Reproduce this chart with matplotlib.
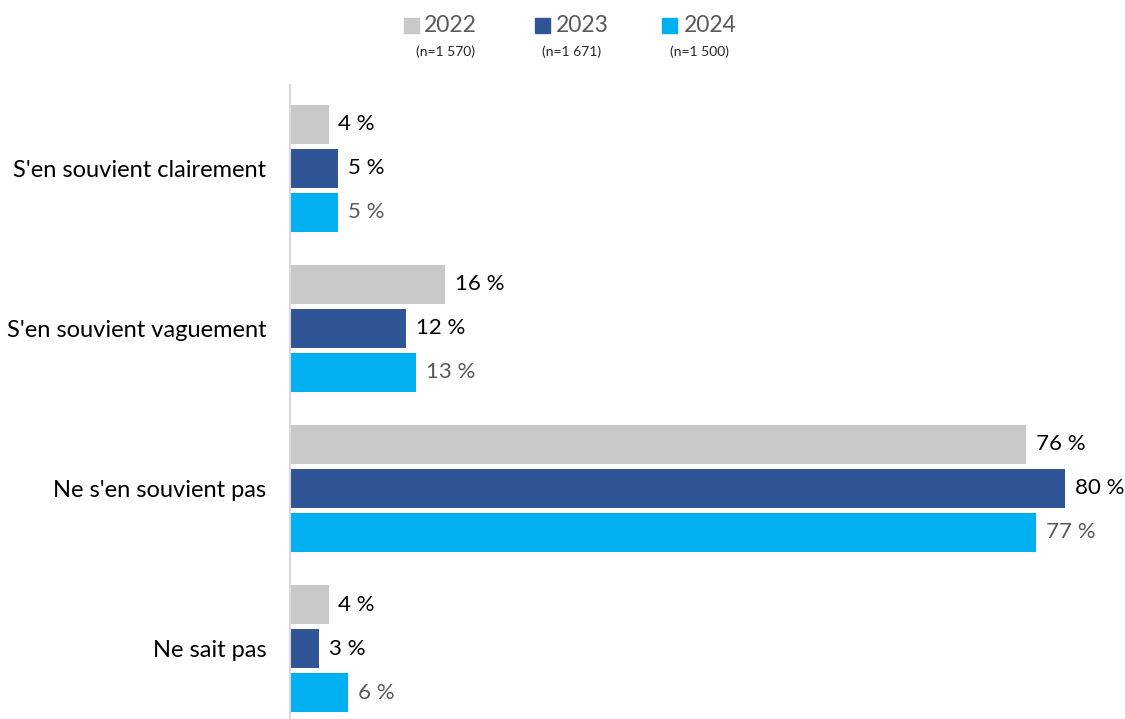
import matplotlib.pyplot as plt
import numpy as np
from matplotlib.patches import Rectangle

plt.rcParams['font.family'] = ['Lato', 'DejaVu Sans']

categories = ["S'en souvient clairement", "S'en souvient vaguement",
              "Ne s'en souvient pas", "Ne sait pas"]
years = ["2022", "2023", "2024"]
sample_sizes = ["(n=1 570)", "(n=1 671)", "(n=1 500)"]
values_2022 = [4, 16, 76, 4]
values_2023 = [5, 12, 80, 3]
values_2024 = [5, 13, 77, 6]

colors = ["#C8C8C8", "#2F5597", "#00B0F0"]
label_colors = ["#000000", "#000000", "#595959"]

fig = plt.figure(figsize=(11.25, 7.19), dpi=100)
W, H = 1125, 719
ax = fig.add_axes([290 / W, 0, 1 - 290 / W - 0.005, (719 - 85) / H])

y = np.arange(len(categories))
offsets = [-0.275, 0, 0.275]
bar_h = 0.245
for vals, off, col, lcol in zip([values_2022, values_2023, values_2024],
                                offsets, colors, label_colors):
    bars = ax.barh(y + off, vals, height=bar_h, color=col)
    for b, v in zip(bars, vals):
        ax.annotate(f"{v} %", (b.get_width(), b.get_y() + b.get_height() / 2),
                    xytext=(7, 0), textcoords="offset points",
                    va="center", ha="left", fontsize=16, color=lcol)

ax.set_xlim(0, 85.6)
ax.set_ylim(3.44, -0.52)
ax.set_yticks(y)
ax.set_yticklabels(categories, fontsize=17, color="#000000")
ax.tick_params(axis="y", length=0, pad=17)
ax.set_xticks([])
for s in ["top", "right", "bottom"]:
    ax.spines[s].set_visible(False)
ax.spines["left"].set_color("#D9D9D9")
ax.spines["left"].set_linewidth(1.5)

# legend row with sample sizes underneath
sq_x = [404, 535, 662]
txt_x = [424, 556, 684]
n_x = [446, 572, 699]
for sx, tx, nx, col, yr, n in zip(sq_x, txt_x, n_x, colors, years, sample_sizes):
    fig.patches.append(Rectangle((sx / W, 1 - 33 / H), 15 / W, 15 / H,
                                 transform=fig.transFigure, color=col))
    fig.text(tx / W, 1 - 26 / H, yr, fontsize=16.5, color="#595959",
             ha="left", va="center")
    fig.text(nx / W, 1 - 52 / H, n, fontsize=10, color="#262626",
             ha="center", va="center")

fig.savefig("out.png", dpi=100)
